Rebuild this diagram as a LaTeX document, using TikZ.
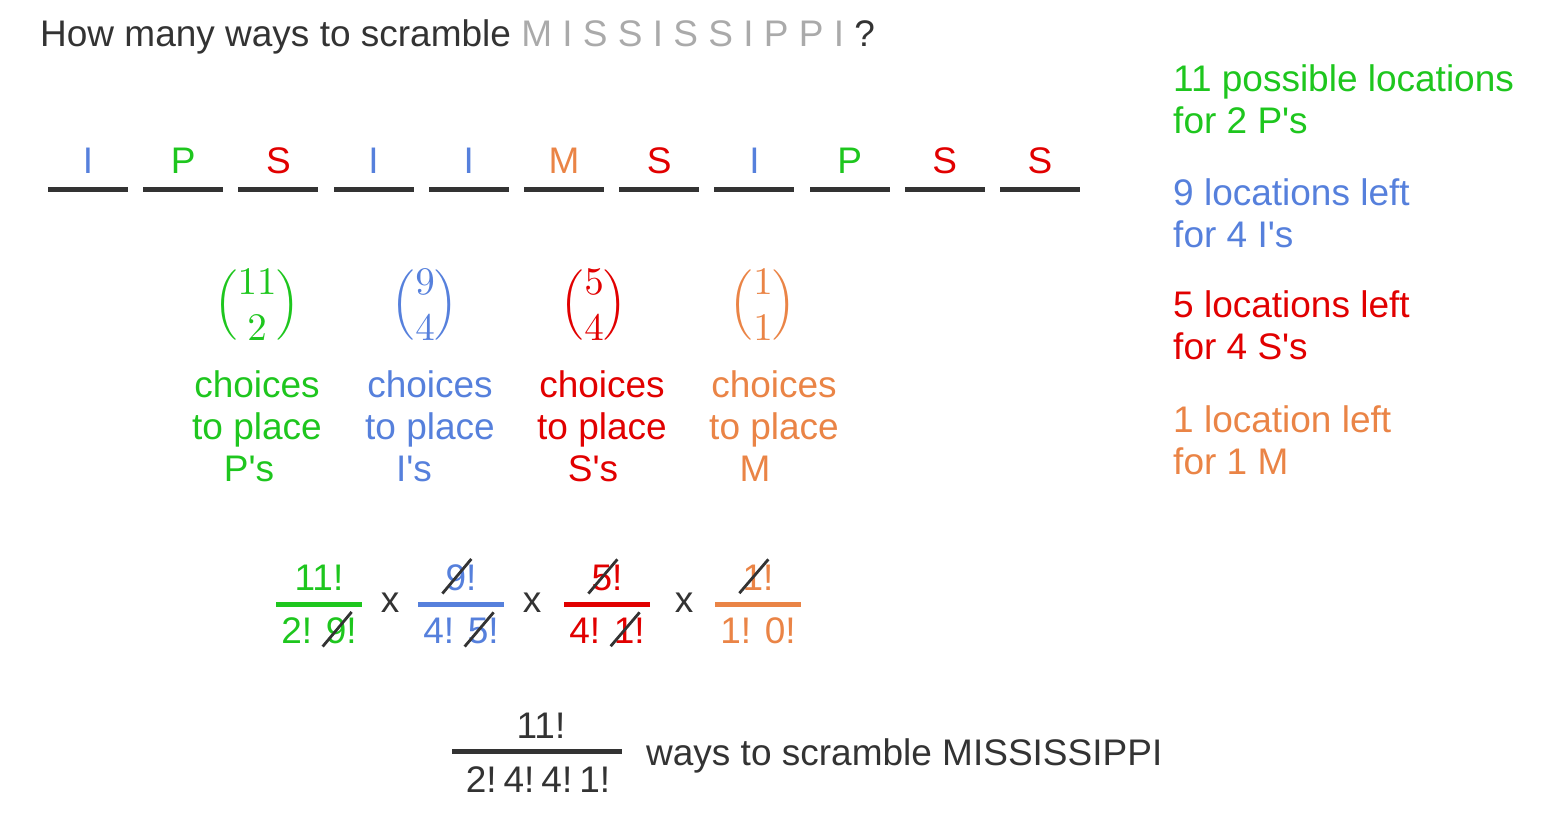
\documentclass[tikz,border=0pt]{standalone}
\usepackage{fontspec}
\setmainfont{Liberation Sans}
\usepackage{amsmath}
\usepackage{graphicx}
\usetikzlibrary{positioning}

\definecolor{pgreen}{RGB}{30,198,30}
\definecolor{pblue}{RGB}{86,128,220}
\definecolor{pred}{RGB}{225,0,0}
\definecolor{porange}{RGB}{234,132,70}
\definecolor{lgray}{RGB}{170,170,170}
\definecolor{dgray}{RGB}{51,51,51}

\newcommand{\q}{\textquotesingle}
\newcommand{\pick}[2]{\scalebox{3.9}{$\Bigl(\raisebox{-0.82pt}{$\begin{matrix}#1\\[-0.2pt]#2\end{matrix}$}\Bigr)$}}
\newcommand{\struck}[1]{\tikz[baseline=(d.base)]{\node[inner sep=0pt] (d) {#1};
  \draw[overlay, dgray, line width=2.8pt] ([shift={(-3pt,-3pt)}]d.south west) -- ([shift={(5pt,5pt)}]d.north east);}}

\begin{document}
\begin{tikzpicture}[x=1pt, y=-1pt, inner sep=0pt,
    font=\fontsize{37}{42}\selectfont,
    slot/.style={fill=dgray, minimum width=80pt, minimum height=5pt},
    binom/.style={font=\fontsize{10}{12}\selectfont},
    choice/.style={align=center, anchor=north},
    note/.style={align=left, anchor=north west},
    bar/.style={minimum height=5pt, minimum width=86pt},
    times/.style={text=dgray}]
  \useasboundingbox (0,0) rectangle (1549,834);

  \node[anchor=base west, text=dgray] (title) at (40,47)
    {How many ways to scramble \textcolor{lgray}{M I S S I S S I P P I} ?};

  % the eleven slots
  \foreach \ch/\col [count=\i] in {I/pblue,P/pgreen,S/pred,I/pblue,I/pblue,M/porange,S/pred,I/pblue,P/pgreen,S/pred,S/pred}{
    \node[slot] (slot\i) at ({88+95.2*(\i-1)},189.5) {};
    \node[text=\col, above=13pt of slot\i] (ch\i) {\ch};
  }

  \node[binom, pgreen] (b1) at (257,308) {\pick{11}{2}};
  \node[binom, pblue] (b2) at (425,308) {\pick{9}{4}};
  \node[binom, pred] (b3) at (594,308) {\pick{5}{4}};
  \node[binom, porange] (b4) at (763,308) {\pick{1}{1}};

  \node[choice, pgreen] (c1) at (257,370) {choices\\to place\\P\q s\rule{16pt}{0pt}};
  \node[choice, pblue] (c2) at (430,370) {choices\\to place\\I\q s\rule{32pt}{0pt}};
  \node[choice, pred] (c3) at (602,370) {choices\\to place\\S\q s\rule{18pt}{0pt}};
  \node[choice, porange] (c4) at (774,370) {choices\\to place\\M\rule{38pt}{0pt}};

  \node[note, pgreen] (n1) at (1173,64) {11 possible locations\\for 2 P\q s};
  \node[note, pblue] (n2) at (1173,178) {9 locations left\\for 4 I\q s};
  \node[note, pred] (n3) at (1173,290) {5 locations left\\for 4 S\q s};
  \node[note, porange] (n4) at (1173,405) {1 location left\\for 1 M};

  % product of fractions
  \node[pgreen, anchor=base] (f1n) at (319,590) {11!};
  \node[bar, fill=pgreen] (f1b) at (319,604) {};
  \node[pgreen, anchor=base] (f1d) at (319,643) {2! \struck{9}!};
  \node[times] (x1) at (390,603) {x};
  \node[pblue, anchor=base] (f2n) at (461,590) {\struck{9}!};
  \node[bar, fill=pblue] (f2b) at (461,604) {};
  \node[pblue, anchor=base] (f2d) at (461,643) {4! \struck{5}!};
  \node[times] (x2) at (532,603) {x};
  \node[pred, anchor=base] (f3n) at (607,590) {\struck{5}!};
  \node[bar, fill=pred] (f3b) at (607,604) {};
  \node[pred, anchor=base] (f3d) at (607,643) {4! \struck{1}!};
  \node[times] (x3) at (684,603) {x};
  \node[porange, anchor=base] (f4n) at (758,590) {\struck{1}!};
  \node[bar, fill=porange] (f4b) at (758,604) {};
  \node[porange, anchor=base] (f4d) at (758,643) {1! 0!};

  % result
  \node[text=dgray, anchor=base] (rn) at (541,738) {11!};
  \node[bar, fill=dgray, minimum width=170pt] (rb) at (537,751) {};
  \node[text=dgray, anchor=base] (rd) at (538,792) {2!\hspace{7pt}4!\hspace{7pt}4!\hspace{7pt}1!};
  \node[text=dgray, anchor=base west] (rt) at (646,765) {ways to scramble MISSISSIPPI};
\end{tikzpicture}
\end{document}
